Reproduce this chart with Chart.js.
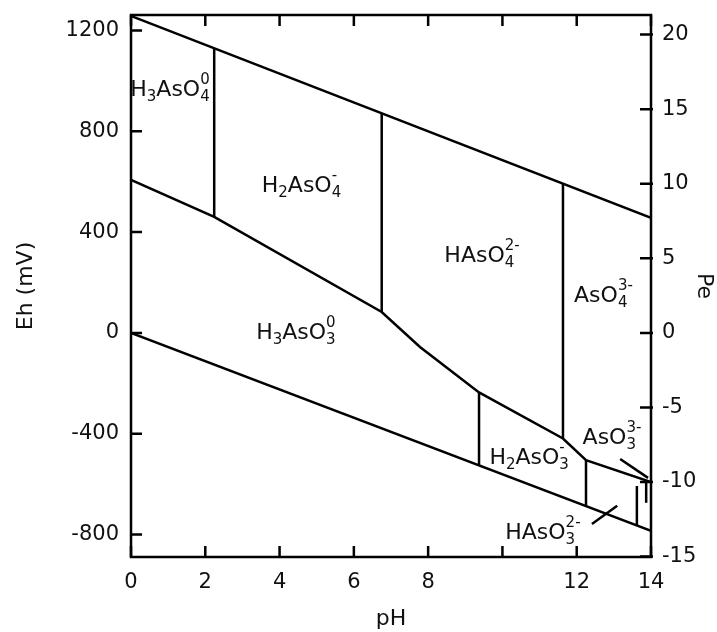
<!DOCTYPE html>
<html>
<head>
<meta charset="utf-8">
<script src="https://cdn.jsdelivr.net/npm/chart.js@4.4.1/dist/chart.umd.min.js"></script>
<style>
  html, body { margin: 0; padding: 0; background: #fff; }
</style>
</head>
<body>
<canvas id="ehph" width="717" height="632"></canvas>
<script>
// axes
const phMin = 0, phMax = 14;
const ehMin = -889, ehMax = 1261;
const mvPerPe = 59.16;
const phTicks = [0, 2, 4, 6, 8, 10, 12, 14];
const phTickLabels = ['0', '2', '4', '6', '8', '', '12', '14'];
const ehTicks = [-800, -400, 0, 400, 800, 1200];
const peTicks = [-15, -10, -5, 0, 5, 10, 15, 20];

// water stability limits
const o2PH = [0, 14];
const o2Eh = [1257, 456];
const h2PH = [0, 14];
const h2Eh = [0, -785];

// As(V) / As(III) boundary
const redoxPH = [0, 2.24, 6.75, 7.78, 9.37, 11.63, 12.25, 14];
const redoxEh = [607, 460, 83, -56, -236, -419, -505, -592];

// acid-base boundaries (vertical lines)
const acidPH = [2.24, 6.75, 11.63, 9.37, 12.25, 13.62, 13.87];
const acidTopEh = [1127, 872, 592, -236, -505, -607, -595];
const acidBottomEh = [460, 83, -419, -524, -690, -766, -674];

// little leader lines for the crowded labels
const leaderPH = [[13.17, 13.92], [12.41, 13.09]];
const leaderEh = [[-500, -575], [-758, -686]];

// species labels: {sub|sup} is a stacked subscript / superscript
const speciesNames = ['H{3}AsO{4|0}', 'H{2}AsO{4|-}', 'HAsO{4|2-}', 'AsO{4|3-}',
                      'H{3}AsO{3|0}', 'H{2}AsO{3|-}', 'AsO{3|3-}', 'HAsO{3|2-}'];
const speciesPH = [1.05, 4.59, 9.45, 12.72, 4.44, 10.72, 12.95, 11.09];
const speciesEh = [972, 591, 313, 155, 8, -488, -409, -785];

const FONT = '"DejaVu Sans", sans-serif';
const INK = '#111';
const LW = 2.5;

function boundary(xs, ys) {
    return {
        data: xs.map((x, i) => ({x: x, y: ys[i]})),
        showLine: true,
        borderColor: '#000',
        borderWidth: LW,
        pointRadius: 0,
        tension: 0,
        fill: false
    };
}

const datasets = [
    boundary(o2PH, o2Eh),
    boundary(h2PH, h2Eh),
    boundary(redoxPH, redoxEh)
];
acidPH.forEach((ph, i) => datasets.push(boundary([ph, ph], [acidTopEh[i], acidBottomEh[i]])));
leaderPH.forEach((xs, i) => datasets.push(boundary(xs, leaderEh[i])));

function drawSpecies(ctx, text, cx, cy) {
    const parts = [];
    text.replace(/([^{]+)|\{([^|}]*)\|?([^}]*)\}/g, (m, main, sub, sup) => {
        parts.push(main ? {main: main} : {sub: sub, sup: sup});
        return m;
    });
    const big = '22px ' + FONT, small = '15px ' + FONT;
    let w = 0;
    parts.forEach(p => {
        if (p.main) {
            ctx.font = big;
            p.w = ctx.measureText(p.main).width;
        } else {
            ctx.font = small;
            p.w = Math.max(ctx.measureText(p.sub).width, ctx.measureText(p.sup || '').width);
        }
        w += p.w;
    });
    let x = cx - w / 2;
    const base = cy + 8;
    ctx.textAlign = 'left';
    ctx.textBaseline = 'alphabetic';
    parts.forEach(p => {
        if (p.main) {
            ctx.font = big;
            ctx.fillText(p.main, x, base);
        } else {
            ctx.font = small;
            ctx.fillText(p.sub, x, base + 5);
            if (p.sup) ctx.fillText(p.sup, x, base - 12);
        }
        x += p.w;
    });
}

// frame, inward ticks and species names
const framePlugin = {
    id: 'frame',
    afterDatasetsDraw(chart) {
        const {ctx, chartArea: a, scales} = chart;
        const tl = 11;
        ctx.save();
        ctx.strokeStyle = '#000';
        ctx.lineWidth = LW;
        ctx.strokeRect(a.left, a.top, a.right - a.left, a.bottom - a.top);
        ctx.beginPath();
        phTicks.forEach(v => {
            const x = scales.x.getPixelForValue(v);
            ctx.moveTo(x, a.bottom); ctx.lineTo(x, a.bottom - tl);
            ctx.moveTo(x, a.top); ctx.lineTo(x, a.top + tl);
        });
        ehTicks.forEach(v => {
            const y = scales.y.getPixelForValue(v);
            ctx.moveTo(a.left, y); ctx.lineTo(a.left + tl, y);
        });
        peTicks.forEach(v => {
            const y = scales.pe.getPixelForValue(v);
            ctx.moveTo(a.right + 2, y); ctx.lineTo(a.right - tl, y);
        });
        ctx.stroke();

        ctx.fillStyle = INK;
        speciesNames.forEach((name, i) => {
            drawSpecies(ctx, name, scales.x.getPixelForValue(speciesPH[i]), scales.y.getPixelForValue(speciesEh[i]));
        });
        ctx.restore();
    }
};

const tickFont = {family: FONT, size: 21};
const titleFont = {family: FONT, size: 22};

// fixed box sizes so the plot area lands where it is in the figure
function fitWidth(w) {
    return s => { s.width = w; s.paddingTop = 0; s.paddingBottom = 0; };
}

new Chart(document.getElementById('ehph').getContext('2d'), {
    type: 'scatter',
    data: {datasets: datasets},
    plugins: [framePlugin],
    options: {
        responsive: false,
        animation: false,
        devicePixelRatio: 1,
        layout: {padding: {top: 15}},
        plugins: {legend: {display: false}, tooltip: {enabled: false}},
        scales: {
            x: {
                type: 'linear',
                position: 'bottom',
                min: phMin,
                max: phMax,
                afterBuildTicks: s => { s.ticks = phTicks.map(v => ({value: v})); },
                afterFit: s => { s.height = 75; s.paddingLeft = 0; s.paddingRight = 0; },
                ticks: {
                    callback: (v, i) => phTickLabels[i],
                    autoSkip: false,
                    maxRotation: 0,
                    padding: 13,
                    color: INK,
                    font: tickFont
                },
                grid: {display: false, drawTicks: false},
                border: {display: false},
                title: {display: true, text: 'pH', color: INK, font: titleFont, padding: 0}
            },
            y: {
                type: 'linear',
                position: 'left',
                min: ehMin,
                max: ehMax,
                afterBuildTicks: s => { s.ticks = ehTicks.map(v => ({value: v})); },
                afterFit: fitWidth(131),
                ticks: {callback: v => String(v), padding: 12, color: INK, font: tickFont},
                grid: {display: false, drawTicks: false},
                border: {display: false},
                title: {display: true, text: 'Eh (mV)', color: INK, font: titleFont, padding: {top: 13, bottom: 0}}
            },
            pe: {
                type: 'linear',
                position: 'right',
                min: ehMin / mvPerPe,
                max: ehMax / mvPerPe,
                afterBuildTicks: s => { s.ticks = peTicks.map(v => ({value: v})); },
                afterFit: fitWidth(66),
                ticks: {callback: v => String(v), padding: 11, color: INK, font: tickFont},
                grid: {display: false, drawTicks: false},
                border: {display: false},
                title: {display: true, text: 'Pe', color: INK, font: titleFont, padding: 0}
            }
        }
    }
});
</script>
</body>
</html>
